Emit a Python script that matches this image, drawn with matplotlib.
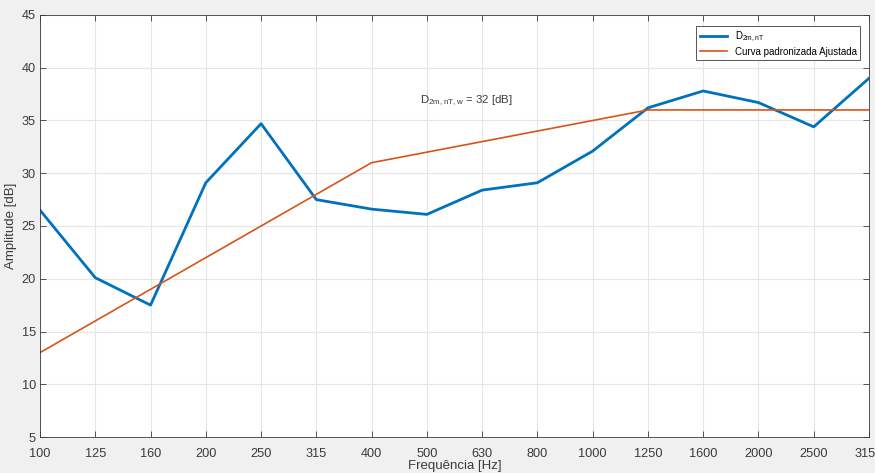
import matplotlib
matplotlib.use('Agg')
import matplotlib.pyplot as plt
import numpy as np

plt.rcParams['font.family'] = ['Liberation Sans', 'DejaVu Sans']

# bandas de terço de oitava
freqs = ['100', '125', '160', '200', '250', '315', '400', '500', '630',
         '800', '1000', '1250', '1600', '2000', '2500', '3150']
d2m_nt = [26.5, 20.1, 17.5, 29.1, 34.7, 27.5, 26.6, 26.1, 28.4,
          29.1, 32.1, 36.2, 37.8, 36.7, 34.4, 39.0]
# curva de referência ISO 717-1 deslocada
curva_ajustada = [13, 16, 19, 22, 25, 28, 31, 32, 33, 34, 35, 36, 36, 36, 36, 36]
d2m_nt_w = 32

x = np.arange(len(freqs))
cinza = '#3a3a3a'

fig = plt.figure(figsize=(8.75, 4.73), dpi=100)
fig.patch.set_facecolor('#f0f0f0')
ax = fig.add_axes([40/875, 36/473, 829/875, 422/473])

ax.plot(x, d2m_nt, color='#0072BD', lw=2.0, label='D$_{\\mathregular{2m,nT}}$')
ax.plot(x, curva_ajustada, color='#D95319', lw=1.2, label='Curva padronizada Ajustada')

ax.set_xlim(0, len(freqs) - 1)
ax.set_ylim(5, 45)
ax.set_xticks(x)
ax.set_xticklabels(freqs)
ax.set_yticks(np.arange(5, 46, 5))
ax.grid(True, color='#e6e6e6', lw=0.8)
ax.set_axisbelow(True)
ax.tick_params(direction='in', top=True, right=True, length=4, width=0.6,
               colors=cinza, labelsize=9.2)
ax.tick_params(axis='x', pad=8)
ax.tick_params(axis='y', pad=3)
for s in ax.spines.values():
    s.set_color(cinza)
    s.set_linewidth(0.6)

ax.set_xlabel('Frequência [Hz]', fontsize=9.5, color=cinza, labelpad=0)
ax.set_ylabel('Amplitude [dB]', fontsize=9.5, color=cinza, labelpad=3)

ax.text(7.72, 36.9, 'D$_{\\mathregular{2m,nT,w}}$ = %d [dB]' % d2m_nt_w,
        fontsize=8.2, color=cinza, va='center', ha='center')

leg = ax.legend(loc='upper right', fontsize=7.0, fancybox=False, framealpha=1,
                edgecolor=cinza, bbox_to_anchor=(820/829, 1 - 11/422),
                handlelength=2.8, borderpad=0.35, labelspacing=0.3,
                handletextpad=0.8, borderaxespad=0)
leg.get_frame().set_linewidth(0.6)

fig.savefig('out.png', dpi=100, facecolor=fig.get_facecolor())
